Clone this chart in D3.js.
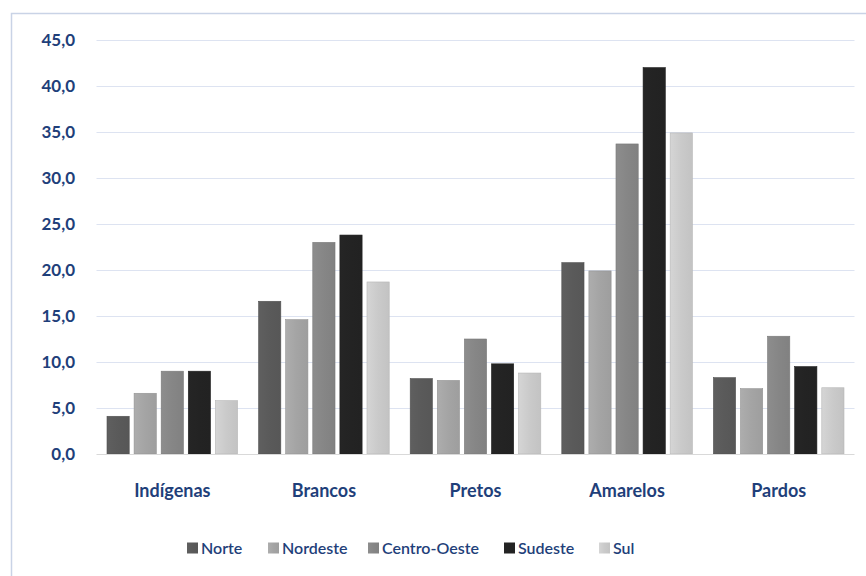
<!DOCTYPE html>
<html>
<head>
<meta charset="utf-8">
<script src="https://cdn.jsdelivr.net/npm/d3@7"></script>
<style>
  html, body { margin: 0; padding: 0; background: #ffffff; }
  svg { display: block; }
  text { font-family: Lato, "Open Sans", sans-serif; }
</style>
</head>
<body>
<svg id="chart" width="866" height="576"></svg>
<script>
// Categories (groups) and regions (series)
const categories = ["Indígenas", "Brancos", "Pretos", "Amarelos", "Pardos"];
const regions = ["Norte", "Nordeste", "Centro-Oeste", "Sudeste", "Sul"];

// Values per region, in category order
const norte       = [4.1, 16.6, 8.2, 20.8, 8.3];
const nordeste    = [6.6, 14.6, 8.0, 19.9, 7.1];
const centroOeste = [9.0, 23.0, 12.5, 33.7, 12.8];
const sudeste     = [9.0, 23.8, 9.8, 42.0, 9.5];
const sul         = [5.8, 18.7, 8.8, 34.9, 7.2];

const yTicks = [0, 5, 10, 15, 20, 25, 30, 35, 40, 45];

const seriesValues = [norte, nordeste, centroOeste, sudeste, sul];
const fills = ["#5a5a5a", "#a4a4a4", "#868686", "#232323", "#cacaca"];

const svg = d3.select("#chart");
const W = 866, H = 576;
const plot = { left: 96.5, right: 854.5, top: 40, bottom: 454 };
const textColor = "#1f3f7a";

// Chart frame
svg.append("rect").attr("x", 0).attr("y", 0).attr("width", W).attr("height", H).attr("fill", "#fff");
svg.append("path")
  .attr("d", `M11.5,${H} L11.5,13.5 L${W},13.5`)
  .attr("fill", "none").attr("stroke", "#c9d3e6").attr("stroke-width", 1.5);

// Gradients for bars
const defs = svg.append("defs");
fills.forEach((c, i) => {
  const g = defs.append("linearGradient").attr("id", "g" + i)
    .attr("x1", 0).attr("y1", 0).attr("x2", 1).attr("y2", 0);
  const col = d3.color(c);
  g.append("stop").attr("offset", "0%").attr("stop-color", col.brighter(0.15));
  g.append("stop").attr("offset", "50%").attr("stop-color", c);
  g.append("stop").attr("offset", "100%").attr("stop-color", col.darker(0.1));
});

const y = d3.scaleLinear().domain([0, 45]).range([plot.bottom, plot.top]);
const x0 = d3.scaleBand().domain(categories).range([plot.left, plot.right]).padding(0);
const x1 = d3.scaleBand().domain(regions)
  .range([10.5, x0.bandwidth() - 10.5]).paddingInner(0.18).paddingOuter(0);

// Gridlines
svg.append("g").selectAll("line").data(yTicks.filter(d => d > 0)).join("line")
  .attr("x1", plot.left).attr("x2", plot.right)
  .attr("y1", d => Math.round(y(d)) + 0.5).attr("y2", d => Math.round(y(d)) + 0.5)
  .attr("stroke", "#dde3f1").attr("stroke-width", 1);

// Y axis labels
const yAxis = d3.axisLeft(y).tickValues(yTicks).tickSize(0).tickPadding(0)
  .tickFormat(d => d3.format(".1f")(d).replace(".", ","));
const ya = svg.append("g").attr("transform", `translate(75,0)`).call(yAxis);
ya.select(".domain").remove();
ya.selectAll("text").attr("fill", textColor).style("font-size", "17px")
  .style("font-weight", "bold")
  .style("font-family", "Lato, sans-serif").attr("dy", "0.34em");

// Bars
const groups = svg.append("g").selectAll("g").data(categories).join("g")
  .attr("transform", d => `translate(${x0(d)},0)`);
groups.selectAll("rect")
  .data((cat, ci) => regions.map((r, ri) => ({ r, ri, v: seriesValues[ri][ci] })))
  .join("rect")
  .attr("x", d => x1(d.r))
  .attr("width", x1.bandwidth())
  .attr("y", d => y(d.v))
  .attr("height", d => y(0) - y(d.v))
  .attr("fill", d => `url(#g${d.ri})`)
  .attr("stroke", d => d3.color(fills[d.ri]).darker(0.3))
  .attr("stroke-width", 0.6);

// Baseline
svg.append("line").attr("x1", plot.left).attr("x2", plot.right)
  .attr("y1", plot.bottom + 0.5).attr("y2", plot.bottom + 0.5)
  .attr("stroke", "#d9d9d9");

// X axis labels
const xAxis = d3.axisBottom(x0).tickSize(0).tickPadding(0);
const xa = svg.append("g").attr("transform", `translate(0,${plot.bottom})`).call(xAxis);
xa.select(".domain").remove();
xa.selectAll("text").attr("fill", textColor).style("font-size", "18px")
  .style("font-weight", "bold")
  .style("font-family", "Lato, sans-serif").attr("y", 30);

// Legend
const legendX = [187, 268, 368, 504, 599];
const legend = svg.append("g").selectAll("g").data(regions).join("g")
  .attr("transform", (d, i) => `translate(${legendX[i]},548)`);
legend.append("rect").attr("x", 0).attr("y", -5.5).attr("width", 11).attr("height", 11)
  .attr("fill", (d, i) => `url(#g${i})`);
legend.append("text").attr("x", 14).attr("dy", "0.36em")
  .attr("fill", textColor).style("font-size", "16px").style("font-weight", "600").text(d => d);
</script>
</body>
</html>
